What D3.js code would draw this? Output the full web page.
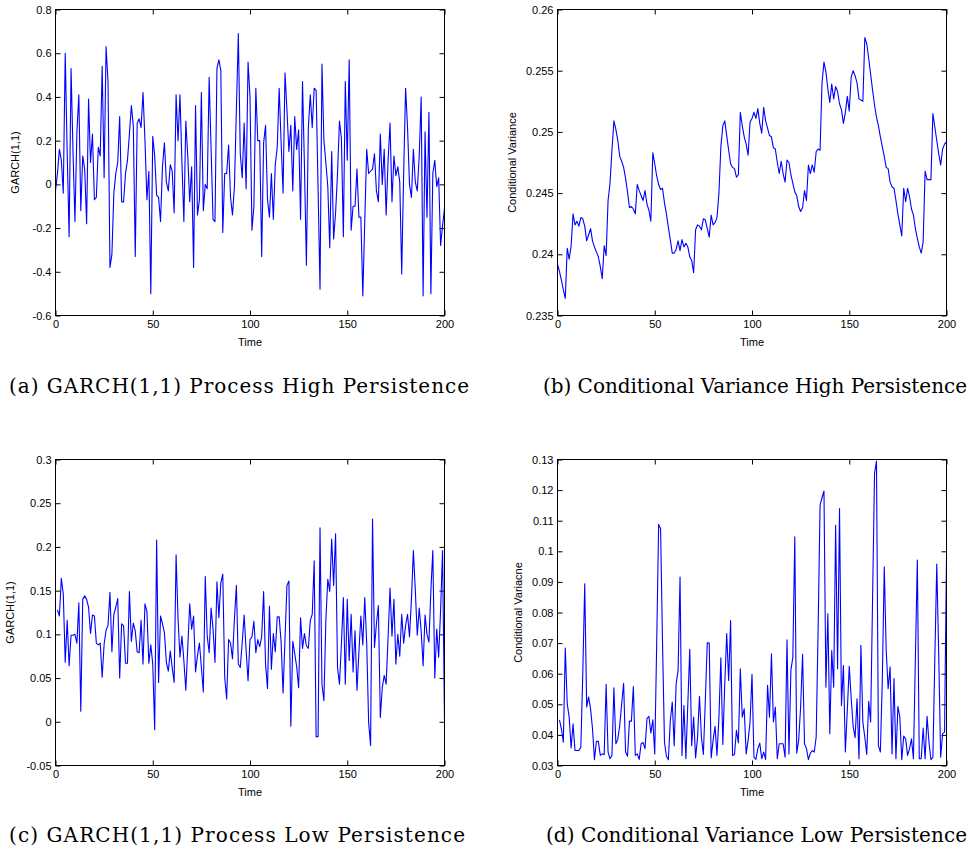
<!DOCTYPE html>
<html>
<head>
<meta charset="utf-8">
<script src="https://cdn.jsdelivr.net/npm/d3@7"></script>
<style>
  body { margin: 0; background: #fff; }
  svg { display: block; }
</style>
</head>
<body>
<div id="chart"></div>
<script>
// values, time runs up to 200
const highProcess = [
  -0.03, 0.05, 0.16, 0.11, -0.04, 0.60, 0.15, -0.24, 0.53, 0.15,
  -0.17, 0.24, 0.41, -0.12, 0.13, 0.07, -0.18, 0.39, 0.10, 0.23,
  -0.07, -0.06, 0.17, 0.13, 0.54, 0.03, 0.63, 0.47, -0.38, -0.32,
  -0.04, 0.05, 0.10, 0.31, -0.08, -0.08, 0.05, 0.11, 0.23, 0.36,
  0.27, -0.33, 0.28, 0.30, 0.26, 0.42, 0.20, -0.07, 0.06, -0.50,
  0.22, 0.13, -0.05, -0.06, -0.17, 0.08, 0.19, 0.01, -0.03, 0.09,
  0.06, -0.13, 0.41, 0.20, 0.41, 0.10, -0.17, 0.29, 0.13, -0.08,
  0.08, -0.38, 0.36, -0.14, -0.07, 0.42, -0.12, 0.00, -0.02, 0.49,
  0.16, -0.16, -0.17, 0.53, 0.57, 0.52, -0.22, 0.05, 0.05, 0.18,
  -0.06, -0.14, -0.01, 0.34, 0.69, 0.14, 0.03, 0.28, -0.02, 0.56,
  0.40, -0.21, -0.10, 0.44, 0.20, 0.20, -0.33, 0.19, 0.27, -0.07,
  -0.15, 0.05, -0.16, 0.09, 0.17, 0.44, 0.19, -0.04, 0.51, 0.34,
  0.15, 0.27, -0.03, 0.31, 0.16, 0.25, -0.16, 0.47, 0.08, -0.37,
  0.26, 0.41, 0.26, 0.44, 0.43, -0.02, -0.48, 0.55, 0.20, 0.10,
  -0.01, -0.29, 0.15, -0.25, -0.13, 0.05, 0.29, 0.21, -0.24, 0.47,
  0.11, 0.57, -0.21, -0.10, -0.10, 0.07, -0.15, -0.15, -0.51, -0.17,
  0.16, 0.05, 0.06, 0.07, 0.14, -0.03, -0.08, 0.23, 0.00, 0.16,
  -0.14, 0.11, 0.28, -0.08, 0.13, 0.04, 0.08, 0.01, -0.41, 0.05,
  0.44, 0.26, 0.00, -0.06, 0.16, 0.01, -0.03, 0.13, 0.40, -0.51,
  0.24, -0.15, 0.33, -0.50, 0.05, 0.11, -0.01, 0.03, -0.28, -0.19,
  -0.11
];

const highVariance = [
  0.2392, 0.2386, 0.2379, 0.2371, 0.2364, 0.2405, 0.2396, 0.2407, 0.2433, 0.2424,
  0.2427, 0.2423, 0.2430, 0.2429, 0.2423, 0.2411, 0.2416, 0.2421, 0.2411, 0.2406,
  0.2402, 0.2398, 0.2390, 0.2380, 0.2407, 0.2399, 0.2444, 0.2458, 0.2485, 0.2509,
  0.2502, 0.2493, 0.2480, 0.2476, 0.2471, 0.2462, 0.2451, 0.2438, 0.2439, 0.2437,
  0.2433, 0.2457, 0.2452, 0.2448, 0.2444, 0.2452, 0.2441, 0.2436, 0.2427, 0.2483,
  0.2474, 0.2464, 0.2457, 0.2453, 0.2454, 0.2442, 0.2433, 0.2422, 0.2412, 0.2401,
  0.2401, 0.2404, 0.2411, 0.2403, 0.2412, 0.2406, 0.2409, 0.2406, 0.2398, 0.2395,
  0.2385, 0.2420, 0.2424, 0.2423, 0.2420, 0.2429, 0.2428, 0.2421, 0.2414, 0.2432,
  0.2424, 0.2426, 0.2430, 0.2450, 0.2488, 0.2505, 0.2509, 0.2497, 0.2485, 0.2474,
  0.2471, 0.2470, 0.2463, 0.2465, 0.2516, 0.2505, 0.2496, 0.2490, 0.2481, 0.2508,
  0.2511, 0.2516, 0.2511, 0.2519, 0.2507, 0.2499, 0.2520, 0.2509, 0.2503, 0.2497,
  0.2496, 0.2487, 0.2486, 0.2475, 0.2466, 0.2476, 0.2466, 0.2459, 0.2477, 0.2475,
  0.2465, 0.2458, 0.2451, 0.2448, 0.2439, 0.2435, 0.2438, 0.2452, 0.2444, 0.2473,
  0.2466, 0.2473, 0.2467, 0.2484, 0.2486, 0.2485, 0.2540, 0.2557, 0.2549, 0.2535,
  0.2524, 0.2539, 0.2527, 0.2537, 0.2533, 0.2523, 0.2518, 0.2507, 0.2516, 0.2529,
  0.2517, 0.2545, 0.2550, 0.2546, 0.2540, 0.2527, 0.2526, 0.2525, 0.2577, 0.2572,
  0.2560, 0.2547, 0.2534, 0.2522, 0.2512, 0.2505, 0.2496, 0.2488, 0.2480, 0.2471,
  0.2470, 0.2459, 0.2455, 0.2454, 0.2444, 0.2433, 0.2424, 0.2415, 0.2454, 0.2443,
  0.2454, 0.2447, 0.2437, 0.2432, 0.2421, 0.2413, 0.2406, 0.2401, 0.2410, 0.2468,
  0.2461, 0.2461, 0.2461, 0.2515, 0.2504, 0.2493, 0.2482, 0.2473, 0.2486, 0.2490,
  0.2492
];

const lowProcess = [
  0.128, 0.121, 0.164, 0.146, 0.068, 0.116, 0.064, 0.099, 0.099, 0.100,
  0.090, 0.136, 0.012, 0.140, 0.144, 0.140, 0.131, 0.101, 0.122, 0.121,
  0.090, 0.088, 0.090, 0.051, 0.089, 0.105, 0.110, 0.148, 0.080, 0.123,
  0.131, 0.141, 0.050, 0.112, 0.110, 0.067, 0.067, 0.149, 0.092, 0.113,
  0.104, 0.080, 0.079, 0.116, 0.066, 0.135, 0.126, 0.067, 0.088, 0.066,
  -0.009, 0.208, 0.045, 0.121, 0.112, 0.102, 0.068, 0.058, 0.081, 0.062,
  0.045, 0.191, 0.118, 0.074, 0.098, 0.070, 0.036, 0.085, 0.135, 0.106,
  0.121, 0.057, 0.076, 0.090, 0.062, 0.034, 0.166, 0.098, 0.079, 0.130,
  0.106, 0.068, 0.160, 0.119, 0.159, 0.169, 0.051, 0.026, 0.094, 0.090,
  0.072, 0.118, 0.156, 0.066, 0.062, 0.091, 0.122, 0.082, 0.047, 0.094,
  0.097, 0.115, 0.079, 0.094, 0.086, 0.097, 0.149, 0.066, 0.038, 0.132,
  0.060, 0.101, 0.080, 0.120, 0.120, 0.091, 0.033, 0.095, 0.156, 0.161,
  -0.005, 0.092, 0.078, 0.063, 0.039, 0.119, 0.084, 0.101, 0.087, 0.084,
  0.116, 0.123, 0.184, -0.017, -0.017, 0.222, 0.043, 0.024, 0.116, 0.163,
  0.149, 0.209, 0.156, 0.215, 0.062, 0.043, 0.089, 0.142, 0.043, 0.140,
  0.070, 0.123, 0.057, 0.104, 0.036, 0.080, 0.121, 0.088, 0.142, 0.090,
  -0.001, -0.027, 0.232, 0.085, 0.112, 0.133, 0.005, 0.039, 0.053, 0.043,
  0.097, 0.153, 0.098, 0.140, 0.066, 0.100, 0.075, 0.123, 0.090, 0.110,
  0.123, 0.097, 0.140, 0.196, 0.150, 0.099, 0.130, 0.104, 0.064, 0.122,
  0.100, 0.091, 0.150, 0.196, 0.050, 0.106, 0.074, 0.128, 0.196, 0.002
];

const lowVariance = [
  0.0449, 0.0420, 0.0376, 0.0684, 0.0502, 0.0458, 0.0357, 0.0436, 0.0349, 0.0349,
  0.0349, 0.0360, 0.0600, 0.0894, 0.0491, 0.0524, 0.0485, 0.0420, 0.0319, 0.0379,
  0.0379, 0.0333, 0.0338, 0.0335, 0.0565, 0.0344, 0.0322, 0.0333, 0.0554, 0.0371,
  0.0386, 0.0431, 0.0502, 0.0569, 0.0344, 0.0330, 0.0445, 0.0445, 0.0558, 0.0333,
  0.0338, 0.0320, 0.0371, 0.0375, 0.0355, 0.0453, 0.0461, 0.0406, 0.0449, 0.0338,
  0.0700, 0.1088, 0.1074, 0.0700, 0.0376, 0.0330, 0.0319, 0.0447, 0.0507, 0.0365,
  0.0567, 0.0611, 0.0916, 0.0333, 0.0496, 0.0322, 0.0500, 0.0680, 0.0365, 0.0458,
  0.0325, 0.0392, 0.0526, 0.0392, 0.0336, 0.0512, 0.0701, 0.0700, 0.0325, 0.0382,
  0.0428, 0.0333, 0.0458, 0.0652, 0.0369, 0.0567, 0.0731, 0.0578, 0.0774, 0.0333,
  0.0336, 0.0415, 0.0374, 0.0616, 0.0458, 0.0485, 0.0338, 0.0382, 0.0442, 0.0598,
  0.0327, 0.0320, 0.0355, 0.0373, 0.0322, 0.0344, 0.0320, 0.0562, 0.0458, 0.0665,
  0.0442, 0.0491, 0.0322, 0.0371, 0.0371, 0.0371, 0.0327, 0.0711, 0.0338, 0.0611,
  0.0654, 0.1047, 0.0340, 0.0382, 0.0491, 0.0663, 0.0371, 0.0355, 0.0319, 0.0340,
  0.0349, 0.0344, 0.0393, 0.0750, 0.1151, 0.1175, 0.1197, 0.0556, 0.0796, 0.0404,
  0.0676, 0.0556, 0.1085, 0.0616, 0.1140, 0.0496, 0.0627, 0.0344, 0.0480, 0.0624,
  0.0520, 0.0428, 0.0391, 0.0518, 0.0322, 0.0693, 0.0440, 0.0393, 0.0336, 0.0510,
  0.0442, 0.0850, 0.1254, 0.1295, 0.0365, 0.0344, 0.0580, 0.0949, 0.0676, 0.0551,
  0.0622, 0.0338, 0.0584, 0.0322, 0.0493, 0.0458, 0.0319, 0.0396, 0.0387, 0.0333,
  0.0355, 0.0387, 0.0322, 0.0650, 0.0971, 0.0322, 0.0322, 0.0422, 0.0322, 0.0461,
  0.0376, 0.0319, 0.0327, 0.0650, 0.0958, 0.0660, 0.0327, 0.0404, 0.0409, 0.0981
];

// tick values (also used as tick labels)
const timeTicks = [0, 50, 100, 150, 200];
const highProcessTicks = [-0.6, -0.4, -0.2, 0, 0.2, 0.4, 0.6, 0.8];
const highVarianceTicks = [0.235, 0.24, 0.245, 0.25, 0.255, 0.26];
const lowProcessTicks = [-0.05, 0, 0.05, 0.1, 0.15, 0.2, 0.25, 0.3];
const lowVarianceTicks = [0.03, 0.04, 0.05, 0.06, 0.07, 0.08, 0.09, 0.1, 0.11, 0.12, 0.13];

const yLabels = ["GARCH(1,1)", "Conditional Variance", "GARCH(1,1)", "Conditional Variacne"];
const captions = [
  "(a) GARCH(1,1) Process High Persistence",
  "(b) Conditional Variance High Persistence",
  "(c) GARCH(1,1) Process Low Persistence",
  "(d) Conditional Variance Low Persistence"
];

const width = 971, height = 854;
const plotWidth = 389, plotHeight = 306;
const axisFont = "'Liberation Sans', Arial, Helvetica, sans-serif";
const captionFont = "'DejaVu Serif', 'Liberation Serif', serif";

// where each panel sits on the page; caption spans captionX .. captionX + captionW
const layout = [
  { left: 55.5, top: 9.5, labelX: 19, captionX: 9, captionW: 460, captionY: 393 },
  { left: 557.5, top: 9.5, labelX: 516, captionX: 543, captionW: 424, captionY: 393 },
  { left: 55.5, top: 459.5, labelX: 14, captionX: 9, captionW: 456, captionY: 842 },
  { left: 557.5, top: 459.5, labelX: 522, captionX: 546, captionW: 421, captionY: 842 }
];

const svg = d3.select("#chart")
  .append("svg")
  .attr("width", width)
  .attr("height", height);

function drawPanel(values, ticks, yLabel, caption, box) {
  const x = d3.scaleLinear()
    .domain([0, 200])
    .range([box.left, box.left + plotWidth]);
  const y = d3.scaleLinear()
    .domain(d3.extent(ticks))
    .range([box.top + plotHeight, box.top]);

  // last sample always lands on t = 200
  const start = 200 - values.length + 1;
  const g = svg.append("g");

  const styleAxis = a => {
    a.select(".domain").remove();
    a.attr("font-family", axisFont).attr("font-size", 11);
    a.selectAll("line").attr("stroke", "#000");
    a.selectAll("text").attr("fill", "#000");
  };

  // bottom + left axes with labels, ticks pointing inside like matlab
  g.append("g")
    .attr("transform", `translate(0,${box.top + plotHeight})`)
    .call(d3.axisBottom(x).tickValues(timeTicks).tickSize(-5).tickPadding(5).tickFormat(d => String(d)))
    .call(styleAxis);

  g.append("g")
    .attr("transform", `translate(${box.left},0)`)
    .call(d3.axisLeft(y).tickValues(ticks).tickSize(-5).tickPadding(4).tickFormat(d => String(d)))
    .call(styleAxis);

  // mirrored ticks on top and right
  g.append("g")
    .attr("transform", `translate(0,${box.top})`)
    .call(d3.axisTop(x).tickValues(timeTicks).tickSize(-5).tickFormat(""))
    .call(styleAxis);

  g.append("g")
    .attr("transform", `translate(${box.left + plotWidth},0)`)
    .call(d3.axisRight(y).tickValues(ticks).tickSize(-5).tickFormat(""))
    .call(styleAxis);

  const line = d3.line()
    .x((d, i) => x(start + i))
    .y(d => y(d));

  g.append("path")
    .datum(values)
    .attr("fill", "none")
    .attr("stroke", "#0000ff")
    .attr("stroke-width", 1.1)
    .attr("stroke-linejoin", "round")
    .attr("d", line);

  // box around the plot
  g.append("rect")
    .attr("x", box.left)
    .attr("y", box.top)
    .attr("width", plotWidth)
    .attr("height", plotHeight)
    .attr("fill", "none")
    .attr("stroke", "#000")
    .attr("stroke-width", 1);

  g.append("text")
    .attr("x", box.left + plotWidth / 2)
    .attr("y", box.top + plotHeight + 30)
    .attr("text-anchor", "middle")
    .attr("font-family", axisFont)
    .attr("font-size", 11)
    .text("Time");

  g.append("text")
    .attr("transform", `translate(${box.labelX},${box.top + plotHeight / 2}) rotate(-90)`)
    .attr("text-anchor", "middle")
    .attr("font-family", axisFont)
    .attr("font-size", 11)
    .text(yLabel);

  // caption under the panel, stretched (spacing only) to the width it has in the paper
  svg.append("text")
    .attr("x", box.captionX)
    .attr("y", box.captionY)
    .attr("font-family", captionFont)
    .attr("font-size", 20)
    .attr("textLength", box.captionW)
    .attr("lengthAdjust", "spacing")
    .text(caption);
}

drawPanel(highProcess, highProcessTicks, yLabels[0], captions[0], layout[0]);
drawPanel(highVariance, highVarianceTicks, yLabels[1], captions[1], layout[1]);
drawPanel(lowProcess, lowProcessTicks, yLabels[2], captions[2], layout[2]);
drawPanel(lowVariance, lowVarianceTicks, yLabels[3], captions[3], layout[3]);
</script>
</body>
</html>
